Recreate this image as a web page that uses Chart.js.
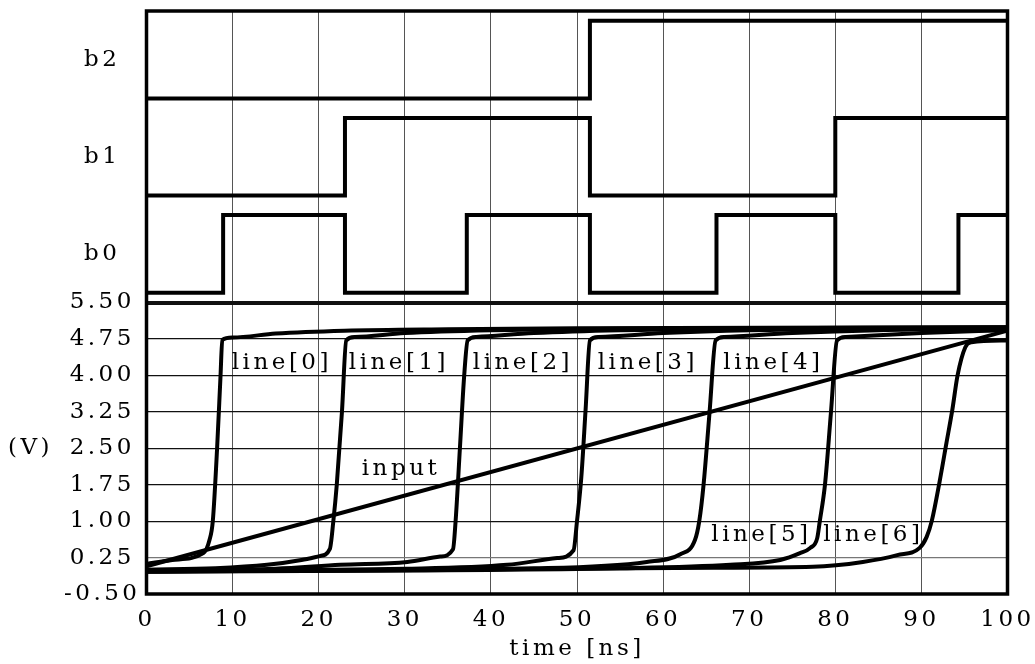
<!DOCTYPE html>
<html>
<head>
<meta charset="utf-8">
<script src="https://cdn.jsdelivr.net/npm/chart.js@4.4.1/dist/chart.umd.min.js"></script>
<style>
  html, body { margin: 0; padding: 0; background: #fff; }
  #wrap { width: 1035px; height: 664px; }
</style>
</head>
<body>
<div id="wrap"><canvas id="waveChart"></canvas></div>
<script>
// time [ns] / voltage [V] pairs
var line0 = [[0, 0.12], [3, 0.2], [6.6, 0.34], [7.3, 0.6], [7.7, 1.0], [8.2, 2.5], [8.6, 4.0], [8.8, 4.73], [10, 4.78], [15, 4.86], [23, 4.92], [35, 4.95], [50, 4.97], [100, 4.99]];
var line1 = [[0, 0.0], [8, 0.03], [14, 0.1], [18, 0.2], [20.1, 0.28], [21.3, 0.43], [21.7, 1.0], [22.1, 1.75], [22.7, 3.25], [23.2, 4.72], [24.2, 4.79], [30, 4.87], [40, 4.93], [55, 4.96], [100, 4.99]];
var line2 = [[0, -0.02], [15, 0.02], [22.5, 0.1], [30.3, 0.16], [34.1, 0.27], [35.6, 0.42], [35.9, 1.0], [36.4, 2.5], [36.9, 4.0], [37.3, 4.72], [38.3, 4.79], [45, 4.87], [55, 4.93], [70, 4.96], [100, 4.98]];
var line3 = [[0, -0.02], [30, 0.02], [41.9, 0.1], [47.7, 0.24], [49.6, 0.4], [50.0, 1.0], [50.5, 1.9], [51.0, 3.3], [51.5, 4.72], [52.5, 4.79], [60, 4.87], [70, 4.93], [85, 4.96], [100, 4.97]];
var line4 = [[0, -0.03], [45, 0.03], [58.1, 0.16], [62.0, 0.32], [63.7, 0.61], [64.2, 1.0], [64.7, 1.75], [65.4, 3.25], [66.1, 4.72], [67.1, 4.79], [75, 4.87], [85, 4.93], [100, 4.96]];
var line5 = [[0, -0.04], [55, 0.03], [67.8, 0.1], [73.6, 0.2], [75.9, 0.34], [77.1, 0.45], [77.9, 0.65], [78.2, 1.0], [78.8, 1.75], [79.5, 3.25], [80.2, 4.72], [81.2, 4.79], [90, 4.87], [100, 4.93]];
var line6 = [[0, -0.04], [65.8, 0.04], [77.4, 0.06], [83.2, 0.16], [87.2, 0.3], [89.8, 0.45], [90.6, 0.67], [91.2, 1.0], [92.1, 1.8], [92.9, 2.6], [93.6, 3.3], [94.2, 4.0], [95.1, 4.58], [95.8, 4.68], [100, 4.72]];
var input = [[0, 0.07], [100, 4.92]];

// digital bits: [time, level] - level holds from that time on
var b0 = [[0, 0], [8.9, 1], [23.05, 0], [37.2, 1], [51.5, 0], [66.2, 1], [80.0, 0], [94.3, 1], [100, 1]];
var b1 = [[0, 0], [23.05, 1], [51.5, 0], [80.0, 1], [100, 1]];
var b2 = [[0, 0], [51.5, 1], [100, 1]];

var bitNames = ['b0', 'b1', 'b2'];
var voltTicks = [-0.5, 0.25, 1.0, 1.75, 2.5, 3.25, 4.0, 4.75, 5.5];
var timeTicks = [0, 10, 20, 30, 40, 50, 60, 70, 80, 90, 100];
var lineNames = ['line[0]', 'line[1]', 'line[2]', 'line[3]', 'line[4]', 'line[5]', 'line[6]', 'input'];

// the bit lanes sit above 5.5 V on the same axis, 2 units per lane
var LANE0 = 5.5, LANE = 2, LOW = 0.2, HIGH = 1.8;
function lane(bits, i) {
    return bits.map(function (p) { return [p[0], LANE0 + i * LANE + (p[1] ? HIGH : LOW)]; });
}

// where the text labels go (time, volt)
var labelSpots = [[9.9, 4.25], [23.5, 4.25], [37.9, 4.25], [52.4, 4.25], [67.0, 4.25], [65.6, 0.71], [78.6, 0.71], [25.0, 2.08]];

var FONT = '"DejaVu Serif", serif';
var SPACING = '3.5px';

Chart.defaults.font.family = FONT;
Chart.defaults.font.size = 23;
Chart.defaults.color = '#000';

var spacingPlugin = {
    id: 'spacing',
    beforeLayout: function (chart) { chart.ctx.letterSpacing = SPACING; },
    beforeDraw: function (chart) { chart.ctx.letterSpacing = SPACING; }
};

var framePlugin = {
    id: 'frame',
    afterDatasetsDraw: function (chart) {
        var ctx = chart.ctx, a = chart.chartArea;
        var xs = chart.scales.x, ys = chart.scales.y;
        ctx.save();
        ctx.strokeStyle = '#000';
        ctx.lineWidth = 3.5;
        ctx.strokeRect(a.left, a.top, a.right - a.left, a.bottom - a.top);

        ctx.font = '23px ' + FONT;
        ctx.letterSpacing = SPACING;
        ctx.fillStyle = '#000';
        ctx.textBaseline = 'middle';
        ctx.textAlign = 'left';
        lineNames.forEach(function (name, i) {
            ctx.fillText(name, xs.getPixelForValue(labelSpots[i][0]), ys.getPixelForValue(labelSpots[i][1]));
        });
        ctx.fillText('(V)', 8, ys.getPixelForValue(2.5));
        ctx.restore();
    }
};

function analog(data) {
    return {
        data: data,
        borderColor: '#000',
        borderWidth: 4,
        pointRadius: 0,
        fill: false,
        cubicInterpolationMode: 'monotone'
    };
}

function digital(data) {
    return {
        data: data,
        borderColor: '#000',
        borderWidth: 4,
        pointRadius: 0,
        fill: false,
        stepped: 'before',
        borderJoinStyle: 'miter'
    };
}

var bitTickValues = bitNames.map(function (n, i) { return LANE0 + i * LANE + 1; });

new Chart(document.getElementById('waveChart').getContext('2d'), {
    type: 'line',
    data: {
        datasets: [
            analog(line0), analog(line1), analog(line2), analog(line3),
            analog(line4), analog(line5), analog(line6), analog(input),
            digital(lane(b0, 0)), digital(lane(b1, 1)), digital(lane(b2, 2))
        ]
    },
    options: {
        responsive: true,
        maintainAspectRatio: false,
        animation: false,
        layout: { padding: { top: 11, right: 27.5, bottom: 0, left: 0 } },
        plugins: {
            legend: { display: false },
            tooltip: { enabled: false }
        },
        scales: {
            x: {
                type: 'linear',
                min: 0,
                max: 100,
                afterBuildTicks: function (scale) {
                    scale.ticks = timeTicks.map(function (v) { return { value: v }; });
                },
                afterFit: function (scale) {
                    scale.height = 70;
                    scale.paddingLeft = 0;
                    scale.paddingRight = 0;
                },
                ticks: { maxRotation: 0, autoSkip: false, padding: 12 },
                grid: { color: '#555', lineWidth: 1, drawTicks: false },
                border: { display: false },
                title: { display: true, text: 'time [ns]', padding: { top: 0, bottom: 1 } }
            },
            y: {
                type: 'linear',
                min: -0.5,
                max: 11.5,
                afterBuildTicks: function (scale) {
                    scale.ticks = voltTicks.concat(bitTickValues).map(function (v) { return { value: v }; });
                },
                afterFit: function (scale) {
                    scale.width = 146.5;
                    scale.paddingTop = 0;
                    scale.paddingBottom = 0;
                },
                ticks: {
                    crossAlign: 'center',
                    padding: 6,
                    autoSkip: false,
                    callback: function (v) {
                        var k = bitTickValues.indexOf(v);
                        return k >= 0 ? bitNames[k] : v.toFixed(2);
                    }
                },
                grid: {
                    drawTicks: false,
                    color: function (c) {
                        var v = c.tick ? c.tick.value : 0;
                        if (bitTickValues.indexOf(v) >= 0 || v === -0.5) return 'rgba(0,0,0,0)';
                        return v === 0.25 ? '#777' : '#111';
                    },
                    lineWidth: function (c) {
                        var v = c.tick ? c.tick.value : 0;
                        return v === 5.5 ? 4 : 1.2;
                    }
                },
                border: { display: false }
            }
        }
    },
    plugins: [spacingPlugin, framePlugin]
});
</script>
</body>
</html>
